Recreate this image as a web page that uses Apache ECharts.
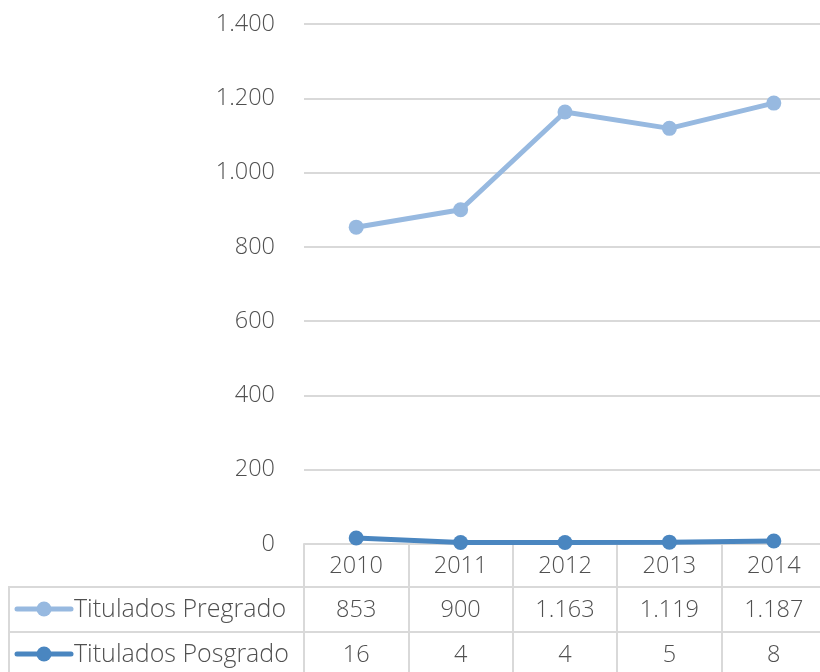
<!DOCTYPE html>
<html>
<head>
<meta charset="utf-8">
<script src="https://cdn.jsdelivr.net/npm/echarts@6/dist/echarts.min.js"></script>
<style>html,body{margin:0;padding:0;background:#fff;}#c{width:820px;height:672px;}</style>
</head>
<body>
<div id="c"></div>
<script>
var years = ['2010', '2011', '2012', '2013', '2014'];
var pregrado = [853, 900, 1163, 1119, 1187];
var posgrado = [16, 4, 4, 5, 8];
var seriesNames = ['Titulados Pregrado', 'Titulados Posgrado'];
var yTicks = [0, 200, 400, 600, 800, 1000, 1200, 1400];

var FONT = "'Open Sans', 'DejaVu Sans', sans-serif";
var TXT = '#505050';
var GRID = '#d9d9d9';
var COLORS = ['#97b9e0', '#4a86c0'];
var FS = 23.5;

function fmt(v) {
  return String(v).replace(/\B(?=(\d{3})+(?!\d))/g, '.');
}

var chart = echarts.init(document.getElementById('c'), null, {renderer: 'canvas'});

var rowAxis = function (offset, arr) {
  return {
    type: 'category', data: years, position: 'bottom', offset: offset, gridIndex: 0,
    boundaryGap: true,
    axisLine: {show: false}, axisTick: {show: false}, splitLine: {show: false},
    axisLabel: {
      show: true, interval: 0, margin: 9, fontSize: FS, fontFamily: FONT, fontWeight: 300, color: TXT,
      hideOverlap: false,
      formatter: function (v, i) { return fmt(arr[i]); }
    }
  };
};

// legend cells of the data table (built from seriesNames / COLORS)
var legendGraphics = [];
var rowCenters = [609, 654];
seriesNames.forEach(function (name, i) {
  var cy = rowCenters[i];
  legendGraphics.push({type: 'line', shape: {x1: 17, y1: cy, x2: 71, y2: cy}, style: {stroke: COLORS[i], lineWidth: 5, lineCap: 'round'}, silent: true, z: 10});
  legendGraphics.push({type: 'circle', shape: {cx: 44, cy: cy, r: 7.5}, style: {fill: COLORS[i]}, silent: true, z: 11});
  legendGraphics.push({type: 'text', x: 74, y: cy + 1, style: {text: name, font: '300 25px ' + FONT, fill: TXT, textVerticalAlign: 'middle', verticalAlign: 'middle'}, silent: true, z: 11});
});

chart.setOption({
  animation: false,
  backgroundColor: '#fff',
  grid: {left: 304, top: 24, right: -6, bottom: 128, containLabel: false, outerBoundsMode: 'none'},
  xAxis: [
    {
      type: 'category', data: years, boundaryGap: true,
      axisLine: {show: true, lineStyle: {color: GRID, width: 2}},
      axisTick: {show: true, interval: 0, length: 130, lineStyle: {color: GRID, width: 2}},
      axisLabel: {interval: 0, margin: 10, fontSize: FS, fontFamily: FONT, fontWeight: 300, color: TXT},
      splitLine: {show: false}
    },
    rowAxis(45, pregrado),
    rowAxis(90, posgrado)
  ],
  yAxis: {
    type: 'value', min: 0, max: 1400, interval: 200,
    axisLine: {show: false}, axisTick: {show: false},
    splitLine: {show: true, lineStyle: {color: GRID, width: 2}},
    axisLabel: {
      margin: 29, fontSize: FS, fontFamily: FONT, fontWeight: 300, color: TXT,
      formatter: function (v) { return fmt(v); }
    }
  },
  graphic: [
    {type: 'line', shape: {x1: 9, y1: 587, x2: 820, y2: 587}, style: {stroke: GRID, lineWidth: 2}, silent: true},
    {type: 'line', shape: {x1: 9, y1: 632, x2: 820, y2: 632}, style: {stroke: GRID, lineWidth: 2}, silent: true},
    {type: 'line', shape: {x1: 9, y1: 586, x2: 9, y2: 672}, style: {stroke: GRID, lineWidth: 2}, silent: true}
  ].concat(legendGraphics),
  series: [
    {
      name: seriesNames[0], type: 'line', data: pregrado, xAxisIndex: 0,
      symbol: 'circle', symbolSize: 15,
      lineStyle: {color: COLORS[0], width: 5}, itemStyle: {color: COLORS[0]}
    },
    {
      name: seriesNames[1], type: 'line', data: posgrado, xAxisIndex: 0,
      symbol: 'circle', symbolSize: 15,
      lineStyle: {color: COLORS[1], width: 5}, itemStyle: {color: COLORS[1]}
    }
  ]
});
</script>
</body>
</html>
